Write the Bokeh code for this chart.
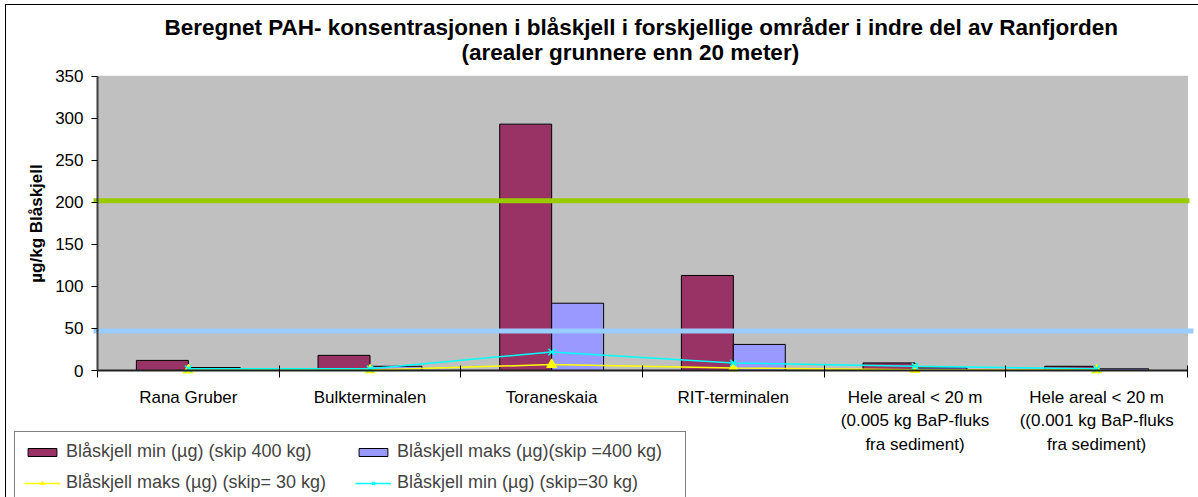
from bokeh.plotting import figure
from bokeh.models import (ColumnDataSource, Range1d, FixedTicker, BoxAnnotation, Legend, LegendItem, Title)
from bokeh.embed import file_html
from bokeh.resources import INLINE

title_lines = ["Beregnet PAH- konsentrasjonen i blåskjell i forskjellige områder i indre del av Ranfjorden",
               "(arealer grunnere enn 20 meter)"]
categories = ["Rana Gruber", "Bulkterminalen", "Toraneskaia", "RIT-terminalen",
              "Hele areal < 20 m\n(0.005 kg BaP-fluks\nfra sediment)",
              "Hele areal < 20 m\n((0.001 kg BaP-fluks\nfra sediment)"]
min_400 = [12, 18, 293, 113, 9, 5]
maks_400 = [3.5, 5, 80, 31, 3, 2]
maks_30 = [0.5, 0.5, 7, 3, 1, 0.5]
min_30 = [2, 2, 22, 9, 5, 2]
green_level = 202
blue_level = 47
y_ticks = [0, 50, 100, 150, 200, 250, 300, 350]
y_max = 350

FONT = "Liberation Sans"
n = len(categories)
centers = [i + 0.5 for i in range(n)]
bw = 0.286

# layout of the canvas (pixels): the frame fills the canvas below the title
W, H, TOP = 1198, 497, 66
AREA_L, AREA_R, AREA_T, AREA_B = 97, 1187, 75.7, 370
ux = n / (AREA_R - AREA_L)            # data units per pixel (x)
uy = y_max / (AREA_B - AREA_T)        # data units per pixel (y)
x_start, x_end = -AREA_L * ux, n + (W - AREA_R) * ux
y_start = -(H - AREA_B) * uy
y_end = y_max + (AREA_T - TOP) * uy

src = ColumnDataSource(dict(
    x1=[c - bw / 2 for c in centers], x2=[c + bw / 2 for c in centers],
    xc=centers, min_400=min_400, maks_400=maks_400, maks_30=maks_30, min_30=min_30))

p = figure(width=W, height=H, output_backend="svg", toolbar_location=None, title=None,
           x_range=Range1d(x_start, x_end), y_range=Range1d(y_start, y_end),
           min_border_left=0, min_border_right=0, min_border_top=TOP, min_border_bottom=0)

p.border_fill_alpha = 0
p.background_fill_alpha = 0
p.outline_line_color = None
p.styles = {
    "background-color": "white",
    "background-image": "linear-gradient(black, black), linear-gradient(black, black)",
    "background-size": "1px 100%, 100% 1px",
    "background-position": "5px 4px, 5px 4px",
    "background-repeat": "no-repeat",
}

# line 2 is added first (nearest the plot), then line 1
for std, off, line in zip([3, -6], [461, 164], reversed(title_lines)):
    t = Title(text=line, align="left", text_font=FONT, text_font_size="22.5px",
              text_font_style="bold", text_color="black", standoff=std, offset=off)
    p.add_layout(t, "above")

p.add_layout(BoxAnnotation(left=0, right=n, bottom=0, top=y_max, fill_color="#C0C0C0", fill_alpha=1,
                           line_color="#808080", line_width=1, level="underlay"))
p.xgrid.visible = False
p.ygrid.visible = False

r1 = p.vbar(x="x1", top="min_400", width=bw, source=src, fill_color="#993366", line_color="black")
r2 = p.vbar(x="x2", top="maks_400", width=bw, source=src, fill_color="#9999FF", line_color="black")

p.segment(x0=-4 * ux, x1=n + 2 * ux, y0=green_level, y1=green_level, line_color="#99CC00", line_width=5)
p.segment(x0=-4 * ux, x1=n + 6 * ux, y0=blue_level, y1=blue_level, line_color="#99CCFF", line_width=5)

l3 = p.line("xc", "maks_30", source=src, line_color="#FFFF00", line_width=1.5)
m3 = p.scatter("xc", "maks_30", source=src, marker="triangle", size=10,
               fill_color="#FFFF00", line_color="#FFFF00")
l4 = p.line("xc", "min_30", source=src, line_color="#00FFFF", line_width=1.5)
m4 = p.scatter("xc", "min_30", source=src, marker="x", size=9, line_color="#00FFFF", line_width=1.5)

# axes (fixed inside the frame)
xa = p.xaxis[0]
xa.fixed_location = 0
xa.bounds = (0, n)
xa.ticker = FixedTicker(ticks=centers, minor_ticks=list(range(n + 1)))
xa.major_label_overrides = {c: lab for c, lab in zip(centers, categories)}
xa.major_tick_out = 0
xa.major_tick_in = 0
xa.minor_tick_out = 7
xa.minor_tick_in = 5
xa.minor_tick_line_color = "black"
xa.axis_line_color = "#202020"
xa.axis_line_width = 2
xa.major_label_text_font = FONT
xa.major_label_text_font_size = "17px"
xa.major_label_text_color = "black"
xa.major_label_text_line_height = 1.25
xa.major_label_standoff = 10

ya = p.yaxis[0]
ya.fixed_location = 0
ya.bounds = (0, y_max)
ya.ticker = FixedTicker(ticks=y_ticks)
ya.minor_tick_line_color = None
ya.major_tick_out = 6
ya.major_tick_in = 0
ya.major_tick_line_color = "black"
ya.axis_line_color = "#404040"
ya.axis_line_width = 2
ya.major_label_text_font = FONT
ya.major_label_text_font_size = "17px"
ya.major_label_text_color = "black"
ya.major_label_standoff = 8
ya.axis_label = "µg/kg Blåskjell"
ya.axis_label_text_font = FONT
ya.axis_label_text_font_size = "17px"
ya.axis_label_text_font_style = "bold"
ya.axis_label_text_color = "black"
ya.axis_label_standoff = 6

legend = Legend(items=[
    LegendItem(label="Blåskjell min (µg) (skip 400 kg)", renderers=[r1]),
    LegendItem(label="Blåskjell maks (µg)(skip =400 kg)", renderers=[r2]),
    LegendItem(label="Blåskjell maks (µg) (skip= 30 kg)", renderers=[l3, m3]),
    LegendItem(label="Blåskjell min (µg) (skip=30 kg)", renderers=[l4, m4]),
], location=(14, -6), orientation="horizontal", nrows=2)
legend.label_text_font = FONT
legend.label_text_font_size = "18px"
legend.glyph_width = 36
legend.glyph_height = 10
legend.label_height = 20
legend.label_width = 279
legend.label_standoff = 6
legend.spacing = 10
legend.padding = 9
legend.margin = 0
legend.border_line_color = "black"
legend.border_line_width = 1
legend.background_fill_color = "white"
legend.background_fill_alpha = 1
p.add_layout(legend, "center")

open("out.html", "w").write(file_html(p, INLINE))
